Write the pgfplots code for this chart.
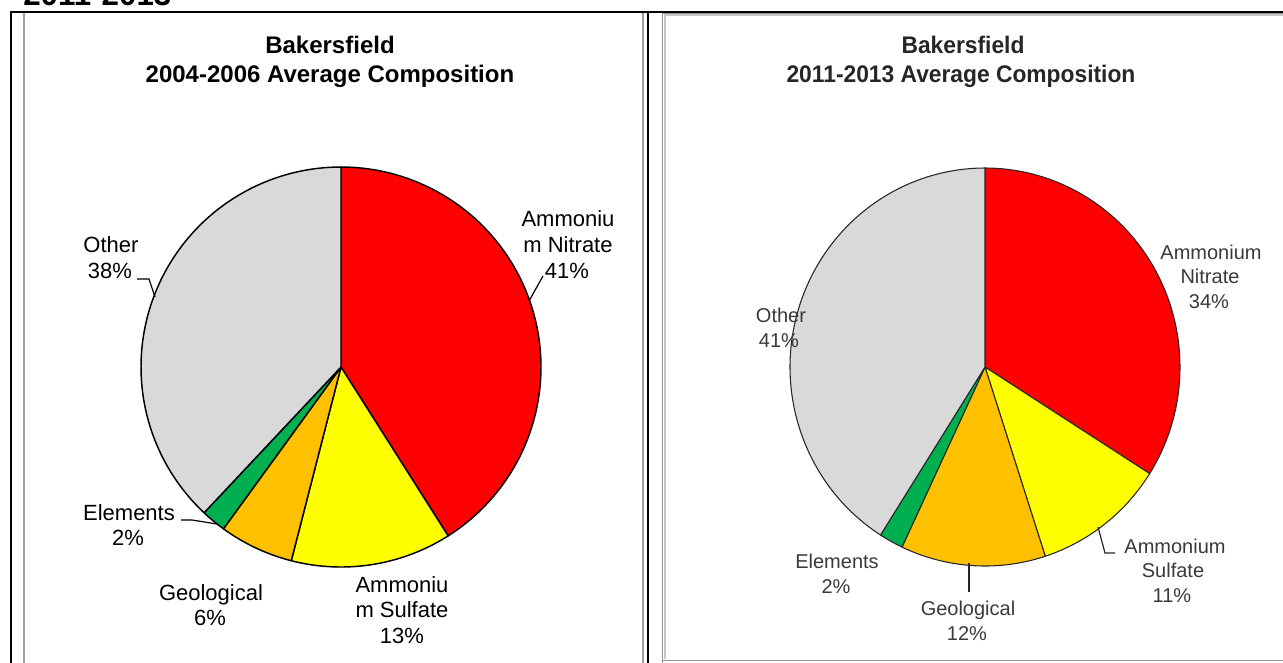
\documentclass[border=0pt]{standalone}
\usepackage{pgfplots}
\pgfplotsset{compat=1.18}
\usepackage{fontspec}
\setmainfont{Liberation Sans}
\usepackage{graphicx}
\definecolor{cNit}{HTML}{FF0000}
\definecolor{cSul}{HTML}{FFFF00}
\definecolor{cGeo}{HTML}{FFC000}
\definecolor{cEle}{HTML}{00B050}
\definecolor{cOth}{HTML}{D9D9D9}
\definecolor{rtext}{HTML}{3A3A3A}
\definecolor{rline}{HTML}{262626}

% running total of the percentages already drawn
\newcommand{\resetpie}{\gdef\cum{0}}
% #1 fill colour, #2 percentage, #3 edge colour, #4 edge width
\newcommand{\slice}[4]{%
  \pgfmathsetmacro{\aE}{90-3.6*\cum}%
  \pgfmathsetmacro{\aS}{90-3.6*(\cum+#2)}%
  \pgfmathsetmacro{\newcum}{\cum+#2}\global\let\cum\newcum
  \edef\doslice{\noexpand\addplot[draw=#3, line width=#4, line join=round, fill=#1,
      domain=\aS:\aE, samples=120, variable=\noexpand\t]
      ({cos(\noexpand\t)},{sin(\noexpand\t)}) -- (axis cs:0,0) -- cycle;}%
  \doslice}

\newcommand{\Lfont}{\fontsize{16.5}{20}\selectfont}
\newcommand{\Rfont}{\fontsize{15}{18}\selectfont}
\newcommand{\Tfont}{\fontsize{18}{22}\selectfont\bfseries}

\begin{document}
\begin{tikzpicture}
\useasboundingbox (0,0) rectangle (962.25pt,-496.5pt);
\clip (0,0) rectangle (962.25pt,-496.5pt);

% ---------------- left pie: 2004-2006 ----------------
\begin{axis}[at={(255.75pt,-275.25pt)}, anchor=center, scale only axis,
  width=300pt, height=300pt, hide axis, clip=false,
  xmin=-1, xmax=1, ymin=-1, ymax=1]
\resetpie
\slice{cNit}{41}{black}{1.1pt}
\slice{cSul}{13}{black}{1.1pt}
\slice{cGeo}{6}{black}{1.1pt}
\slice{cEle}{2}{black}{1.1pt}
\slice{cOth}{38}{black}{1.1pt}
\end{axis}

% ---------------- right pie: 2011-2013 ----------------
\begin{axis}[at={(738.75pt,-275.25pt)}, anchor=center, scale only axis,
  width=292.5pt, height=298.5pt, hide axis, clip=false,
  xmin=-1, xmax=1, ymin=-1, ymax=1]
\resetpie
\slice{cNit}{34}{rline}{0.8pt}
\slice{cSul}{11}{rline}{0.8pt}
\slice{cGeo}{12}{rline}{0.8pt}
\slice{cEle}{2}{rline}{0.8pt}
\slice{cOth}{41}{rline}{0.8pt}
\end{axis}

\begin{scope}[x=0.75pt,y=-0.75pt]
% partly hidden heading at the very top
\node[anchor=base west, inner sep=0, font=\fontsize{23.5}{26}\selectfont\bfseries] at (23,5) {2011-2013};

% frames
\draw[line width=1.5pt] (10.5,12) -- (10.5,675);
\draw[line width=1.5pt] (10,12) -- (1290,12);
\draw[gray!75, line width=0.8pt] (24,13) -- (24,675);
\draw[gray!75, line width=0.8pt] (643,13) -- (643,675);
\draw[line width=1.9pt] (648,12) -- (648,675);
\draw[gray!45, line width=1.6pt] (665,16) -- (665,659) (664,15) -- (1290,15);
\draw[gray!85, line width=0.9pt] (662.5,675) -- (662.5,13.7) (662,13.7) -- (1290,13.7);
\draw[gray!85, line width=0.9pt] (662,660.7) -- (1290,660.7);

% left titles
\node[anchor=base, inner sep=0, font=\Tfont] at (330,53) {Bakersfield};
\node[anchor=base, inner sep=0, font=\Tfont] at (330,82) {2004-2006 Average Composition};

% left labels
\begin{scope}[every node/.style={anchor=base, inner sep=0, font=\Lfont}]
\node at (568,226) {Ammoniu};
\node at (568,252) {m Nitrate};
\node at (567,278) {41\%};
\node at (111,252) {Other};
\node at (110,278) {38\%};
\node at (129,520) {Elements};
\node at (128,545) {2\%};
\node at (211,600) {Geological};
\node at (210,625) {6\%};
\node at (402,592) {Ammoniu};
\node at (402,617) {m Sulfate};
\node at (402,643) {13\%};
\end{scope}
\draw[line width=0.9pt] (543,276) -- (529,301);
\draw[line width=0.9pt] (137,279) -- (149,279) -- (155,297);
\draw[line width=0.9pt] (181,520) -- (192,520) -- (217,524);

% right titles
\node[anchor=base, inner sep=0, font=\Tfont, text=rline] at (963,53) {\scalebox{0.95}[1]{Bakersfield}};
\node[anchor=base, inner sep=0, font=\Tfont, text=rline] at (961,82) {\scalebox{0.95}[1]{2011-2013 Average Composition}};

% right labels
\begin{scope}[every node/.style={anchor=base, inner sep=0, font=\Rfont, text=rtext}]
\node at (1211,259) {Ammonium};
\node at (1210,283) {Nitrate};
\node at (1209,308) {34\%};
\node at (781,322) {Other};
\node at (779,347) {41\%};
\node at (1175,553) {Ammonium};
\node at (1173,577) {Sulfate};
\node at (1172,602) {11\%};
\node at (968,615) {Geological};
\node at (967,640) {12\%};
\node at (837,568) {Elements};
\node at (836,593) {2\%};
\end{scope}
\draw[rline, line width=0.9pt] (1098,527) -- (1105,553) -- (1115,553);
\draw[rline, line width=0.9pt] (969,563) -- (969,592);
\end{scope}
\end{tikzpicture}
\end{document}
